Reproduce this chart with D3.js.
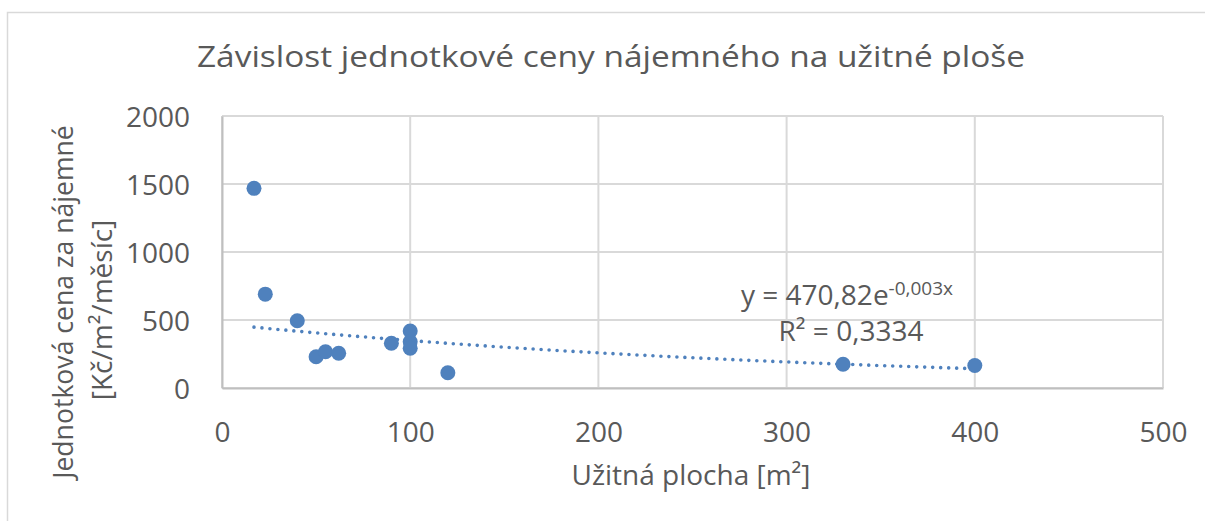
<!DOCTYPE html>
<html>
<head>
<meta charset="utf-8">
<script src="https://cdn.jsdelivr.net/npm/d3@7"></script>
<style>
  html, body { margin: 0; padding: 0; background: #fff; }
  svg { display: block; font-family: 'Open Sans', sans-serif; }
</style>
</head>
<body>
<div id="wrapper"></div>
<script>
// data
const areas = [17, 23, 40, 50, 55, 62, 90, 100, 100, 100, 120, 330, 400]
const prices = [1468, 690, 495, 230, 267, 255, 329, 419, 340, 292, 112, 175, 165]
const xTicks = [0, 100, 200, 300, 400, 500]
const yTicks = [0, 500, 1000, 1500, 2000]
// exponential trendline shown in the chart
const trendA = 470.82
const trendB = -0.003
const trendText = ['y = 470,82e', '-0,003x']
const r2Text = 'R² = 0,3334'

const title = 'Závislost jednotkové ceny nájemného na užitné ploše'
const yTitle = ['Jednotková cena za nájemné', '[Kč/m²/měsíc]']
const xTitle = 'Užitná plocha [m²]'

const textColor = '#595959'
const dotColor = '#4f81bd'

let dimensions = {
    width: 1205,
    height: 521,
    margin: { top: 116, right: 42, bottom: 133, left: 222 }
}
dimensions.boundedWidth = dimensions.width - dimensions.margin.left - dimensions.margin.right
dimensions.boundedHeight = dimensions.height - dimensions.margin.top - dimensions.margin.bottom

const svg = d3.select('#wrapper').append('svg')
    .attr('width', dimensions.width)
    .attr('height', dimensions.height)

// outer chart frame
svg.append('rect')
    .attr('x', 7.5).attr('y', 12.5)
    .attr('width', 1300).attr('height', 600)
    .attr('fill', 'none')
    .attr('stroke', '#d9d9d9')
    .attr('stroke-width', 1.5)

const bounds = svg.append('g')
    .attr('transform', `translate(${dimensions.margin.left}, ${dimensions.margin.top})`)

const xScale = d3.scaleLinear()
    .domain([0, 500])
    .range([0, dimensions.boundedWidth])

const yScale = d3.scaleLinear()
    .domain([0, 2000])
    .range([dimensions.boundedHeight, 0])

// gridlines
bounds.append('g')
    .selectAll('line')
    .data(yTicks)
    .join('line')
    .attr('x1', 0).attr('x2', dimensions.boundedWidth)
    .attr('y1', d => yScale(d)).attr('y2', d => yScale(d))
    .attr('stroke', '#d9d9d9').attr('stroke-width', 2)

bounds.append('g')
    .selectAll('line')
    .data(xTicks)
    .join('line')
    .attr('y1', 0).attr('y2', dimensions.boundedHeight)
    .attr('x1', d => xScale(d)).attr('x2', d => xScale(d))
    .attr('stroke', '#d9d9d9').attr('stroke-width', 2)

// axes
const xAxis = bounds.append('g')
    .attr('transform', `translate(0, ${dimensions.boundedHeight})`)
    .call(d3.axisBottom(xScale).tickValues(xTicks).tickFormat(d3.format('d')).tickSize(0).tickPadding(54))
const yAxis = bounds.append('g')
    .call(d3.axisLeft(yScale).tickValues(yTicks).tickFormat(d3.format('d')).tickSize(0).tickPadding(32))

for (const ax of [xAxis, yAxis]) {
    ax.select('.domain').attr('stroke', '#bfbfbf').attr('stroke-width', 2)
    ax.selectAll('text')
        .attr('fill', textColor)
        .style('font-size', '28px')
        .style('font-family', "'Open Sans', sans-serif")
}
yAxis.selectAll('text').attr('dy', '0.36em')
xAxis.selectAll('text').attr('dy', '0')

// trendline
const trendX = d3.range(d3.min(areas), d3.max(areas) + 1, 1)
const trendLine = d3.line()
    .x(d => xScale(d))
    .y(d => yScale(trendA * Math.exp(trendB * d)))

bounds.append('path')
    .attr('d', trendLine(trendX))
    .attr('fill', 'none')
    .attr('stroke', dotColor)
    .attr('stroke-width', 3.6)
    .attr('stroke-linecap', 'round')
    .attr('stroke-dasharray', '0 8')

// points
bounds.append('g')
    .selectAll('circle')
    .data(areas)
    .join('circle')
    .attr('cx', d => xScale(d))
    .attr('cy', (d, i) => yScale(prices[i]))
    .attr('r', 7.5)
    .attr('fill', dotColor)

// trendline label
const eq = svg.append('text')
    .attr('x', 741).attr('y', 305)
    .attr('fill', textColor)
    .style('font-size', '28px')
eq.append('tspan').text(trendText[0])
eq.append('tspan')
    .attr('dy', -10)
    .style('font-size', '19px')
    .text(trendText[1])

svg.append('text')
    .attr('x', 851).attr('y', 341)
    .attr('text-anchor', 'middle')
    .attr('fill', textColor)
    .style('font-size', '28px')
    .text(r2Text)

// title
svg.append('text')
    .attr('x', 611).attr('y', 67)
    .attr('text-anchor', 'middle')
    .attr('fill', textColor)
    .style('font-size', '30px')
    .attr('textLength', 828)
    .attr('lengthAdjust', 'spacingAndGlyphs')
    .text(title)

// axis titles
svg.append('text')
    .attr('x', 691).attr('y', 485)
    .attr('text-anchor', 'middle')
    .attr('fill', textColor)
    .style('font-size', '28px')
    .text(xTitle)

svg.append('text')
    .attr('transform', 'translate(73, 302) rotate(-90)')
    .attr('text-anchor', 'middle')
    .attr('fill', textColor)
    .style('font-size', '26.6px')
    .text(yTitle[0])

svg.append('text')
    .attr('transform', 'translate(112, 310) rotate(-90)')
    .attr('text-anchor', 'middle')
    .attr('fill', textColor)
    .style('font-size', '28px')
    .text(yTitle[1])
</script>
</body>
</html>
